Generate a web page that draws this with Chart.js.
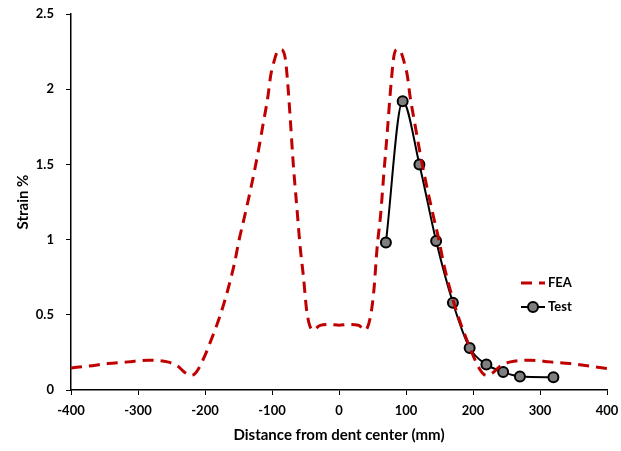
<!DOCTYPE html>
<html>
<head>
<meta charset="utf-8">
<title>Strain vs distance</title>
<script src="https://cdn.jsdelivr.net/npm/chart.js@4/dist/chart.umd.min.js"></script>
<style>
  body { margin: 0; background: #fff; }
  #wrap { width: 621px; height: 451px; }
</style>
</head>
<body>
<div id="wrap"><canvas id="strainChart" width="621" height="451"></canvas></div>
<script>
// FEA curve (mm, strain %)
const feaX = [-400, -375, -345, -315, -286, -256, -241, -231, -221, -216, -211, -201, -191, -178, -166, -156, -149, -141, -131, -121, -114, -106, -102, -96, -93, -87, -80, -77, -73, -68, -63, -58, -53, -48, -39, -28, -13, 0, 14, 29, 39, 47, 52, 57, 62, 67, 72, 77, 82, 87, 93, 96, 102, 106, 114, 121, 131, 141, 149, 156, 166, 178, 191, 201, 211, 216, 221, 231, 241, 256, 286, 315, 345, 375, 400];
const feaY = [0.147, 0.158, 0.176, 0.187, 0.198, 0.187, 0.16, 0.12, 0.098, 0.105, 0.131, 0.22, 0.331, 0.487, 0.665, 0.843, 1.0, 1.153, 1.353, 1.575, 1.75, 1.955, 2.09, 2.2, 2.24, 2.265, 2.2, 2.065, 1.82, 1.487, 1.22, 0.953, 0.75, 0.52, 0.398, 0.43, 0.436, 0.431, 0.436, 0.431, 0.398, 0.49, 0.66, 0.953, 1.16, 1.443, 1.71, 2.0, 2.22, 2.265, 2.24, 2.2, 2.09, 1.955, 1.75, 1.575, 1.353, 1.153, 1.0, 0.843, 0.665, 0.487, 0.331, 0.22, 0.131, 0.105, 0.098, 0.12, 0.16, 0.187, 0.198, 0.187, 0.176, 0.158, 0.143];

// test measurements
const testX = [70, 95, 120, 145, 170, 195, 220, 245, 270, 320];
const testY = [0.98, 1.92, 1.50, 0.99, 0.58, 0.28, 0.17, 0.12, 0.09, 0.085];

const xTicks = [-400, -300, -200, -100, 0, 100, 200, 300, 400];
const yTicks = [0, 0.5, 1, 1.5, 2, 2.5];

const FONT = 'Lato, "Open Sans", sans-serif';
const RED = '#C00000';

const toPoints = (xs, ys) => xs.map((x, i) => ({ x: x, y: ys[i] }));

// legend sits inside the plot, drawn by hand like the Excel one
const insideLegend = {
    id: 'insideLegend',
    afterDraw(chart) {
        const ctx = chart.ctx;
        const x0 = 521, x1 = 545, tx = 548;
        const yFea = 283, yTest = 307;
        ctx.save();
        ctx.lineWidth = 3;
        ctx.strokeStyle = RED;
        ctx.setLineDash([11, 7]);
        ctx.beginPath();
        ctx.moveTo(x0, yFea);
        ctx.lineTo(x1, yFea);
        ctx.stroke();
        ctx.setLineDash([]);
        ctx.lineWidth = 2;
        ctx.strokeStyle = '#000';
        ctx.beginPath();
        ctx.moveTo(x0, yTest);
        ctx.lineTo(x1, yTest);
        ctx.stroke();
        ctx.beginPath();
        ctx.arc((x0 + x1) / 2, yTest, 5, 0, Math.PI * 2);
        ctx.fillStyle = '#7f7f7f';
        ctx.fill();
        ctx.stroke();
        ctx.fillStyle = '#000';
        ctx.font = 'bold 13px ' + FONT;
        ctx.textAlign = 'left';
        ctx.textBaseline = 'middle';
        ctx.fillText('FEA', tx, yFea);
        ctx.fillText('Test', tx, yTest);
        ctx.restore();
    }
};

const ctx = document.getElementById('strainChart').getContext('2d');
new Chart(ctx, {
    type: 'scatter',
    data: {
        datasets: [
            {
                label: 'FEA',
                data: toPoints(feaX, feaY),
                showLine: true,
                borderColor: RED,
                borderWidth: 3,
                borderDash: [11, 7],
                pointRadius: 0,
                cubicInterpolationMode: 'monotone',
                fill: false
            },
            {
                label: 'Test',
                data: toPoints(testX, testY),
                showLine: true,
                borderColor: '#000',
                borderWidth: 2,
                pointRadius: 5,
                pointBackgroundColor: '#7f7f7f',
                pointBorderColor: '#000',
                pointBorderWidth: 2,
                cubicInterpolationMode: 'monotone',
                fill: false
            }
        ]
    },
    options: {
        responsive: false,
        animation: false,
        layout: { padding: { top: 14, right: 14, left: 0, bottom: 0 } },
        plugins: {
            legend: { display: false },
            tooltip: { enabled: false }
        },
        scales: {
            x: {
                type: 'linear',
                min: -400,
                max: 400,
                afterBuildTicks: s => { s.ticks = xTicks.map(v => ({ value: v })); },
                afterFit: s => { s.height = 61; s.paddingLeft = 0; s.paddingRight = 0; },
                ticks: {
                    color: '#000',
                    padding: 8,
                    callback: v => String(v),
                    font: { family: FONT, size: 13, weight: 'bold' }
                },
                grid: { drawOnChartArea: false, color: '#000', tickLength: 5, lineWidth: 1 },
                border: { color: '#000', width: 1.5 },
                title: {
                    display: true,
                    text: 'Distance from dent center (mm)',
                    color: '#000',
                    font: { family: FONT, size: 15, weight: 'bold' },
                    padding: { top: 0, bottom: 7 }
                }
            },
            y: {
                min: 0,
                max: 2.5,
                afterBuildTicks: s => { s.ticks = yTicks.map(v => ({ value: v })); },
                afterFit: s => { s.width = 71; s.paddingTop = 0; s.paddingBottom = 0; },
                ticks: {
                    color: '#000',
                    padding: 12,
                    callback: v => String(v),
                    font: { family: FONT, size: 13, weight: 'bold' }
                },
                grid: { drawOnChartArea: false, color: '#000', tickLength: 5, lineWidth: 1 },
                border: { color: '#000', width: 1.5 },
                title: {
                    display: true,
                    text: 'Strain %',
                    color: '#000',
                    font: { family: FONT, size: 15, weight: 'bold' },
                    padding: { top: 14, bottom: 0 }
                }
            }
        }
    },
    plugins: [insideLegend]
});
</script>
</body>
</html>
